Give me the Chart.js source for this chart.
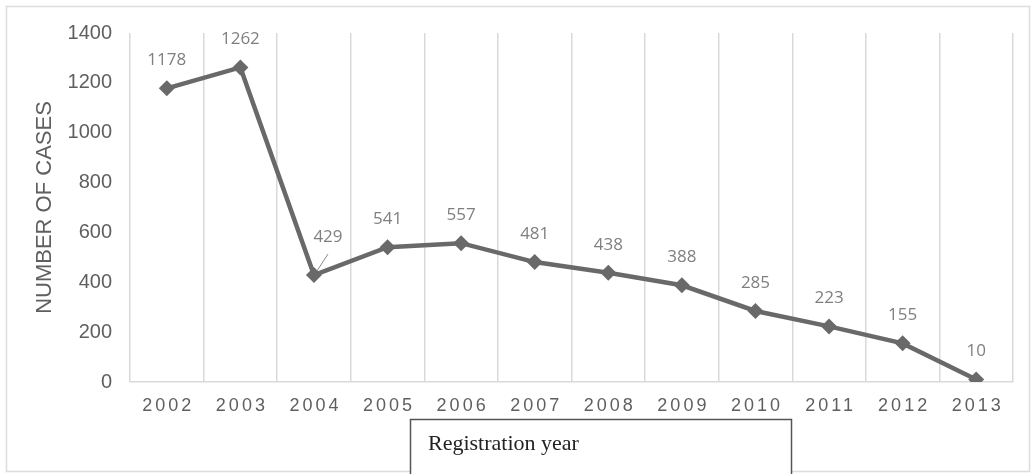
<!DOCTYPE html>
<html>
<head>
<meta charset="utf-8">
<script src="https://cdn.jsdelivr.net/npm/chart.js@4.4.1/dist/chart.umd.min.js"></script>
<style>
  html, body { margin: 0; padding: 0; background: #fff; }
  #wrap { width: 1035px; height: 474px; position: relative; }
</style>
</head>
<body>
<div id="wrap"><canvas id="chart" width="1035" height="474"></canvas></div>
<script>
// registration years and case counts
const years = ['2002', '2003', '2004', '2005', '2006', '2007', '2008', '2009', '2010', '2011', '2012', '2013']
const cases = [1178, 1262, 429, 541, 557, 481, 438, 388, 285, 223, 155, 10]
const yTicks = [0, 200, 400, 600, 800, 1000, 1200, 1400]

const lineColor = '#696969'
const sans = '"Liberation Sans", Arial, sans-serif'

// frame around the whole figure + the x-axis caption box
const framePlugin = {
  id: 'frame',
  beforeDraw(chart) {
    const ctx = chart.ctx
    ctx.save()
    ctx.fillStyle = '#fff'
    ctx.fillRect(0, 0, chart.width, chart.height)
    ctx.strokeStyle = '#dcdcdc'
    ctx.lineWidth = 1.5
    ctx.strokeRect(6.5, 6.5, chart.width - 12, chart.height - 9)
    ctx.restore()
  },
  afterDraw(chart) {
    const ctx = chart.ctx
    const x = chart.scales.x
    ctx.save()
    // category labels, slightly tracked
    ctx.fillStyle = '#5f5f5f'
    ctx.font = '18px ' + sans
    ctx.letterSpacing = '3px'
    ctx.textAlign = 'center'
    ctx.textBaseline = 'middle'
    years.forEach((y, i) => {
      ctx.fillText(y, x.getPixelForTick(i) + 1.5, x.top + 24)
    })
    ctx.letterSpacing = '0px'
    // caption box
    ctx.strokeStyle = '#555'
    ctx.lineWidth = 1.5
    ctx.fillStyle = '#fff'
    ctx.fillRect(410, 419, 381, 60)
    ctx.strokeRect(410.5, 419.5, 381, 60)
    ctx.fillStyle = '#222'
    ctx.font = '22px "Liberation Serif", "Times New Roman", serif'
    ctx.textAlign = 'left'
    ctx.fillText('Registration year', 428, 444)
    ctx.restore()
  },
}

// value labels above each marker
const valueLabels = {
  id: 'valueLabels',
  afterDatasetsDraw(chart) {
    const ctx = chart.ctx
    const meta = chart.getDatasetMeta(0)
    ctx.save()
    ctx.fillStyle = '#7f7f7f'
    ctx.font = '17px "Open Sans", sans-serif'
    ctx.textAlign = 'center'
    ctx.textBaseline = 'middle'
    meta.data.forEach((pt, i) => {
      const v = cases[i]
      if (i === 2) {
        // pulled up and right, with a leader line back to the marker
        ctx.strokeStyle = '#8a8a8a'
        ctx.lineWidth = 1
        ctx.beginPath()
        ctx.moveTo(pt.x + 3, pt.y - 4)
        ctx.lineTo(pt.x + 14, pt.y - 21)
        ctx.stroke()
        ctx.fillText(String(v), pt.x + 14, pt.y - 38)
      } else {
        ctx.fillText(String(v), pt.x, pt.y - 28)
      }
    })
    ctx.restore()
  },
}

new Chart(document.getElementById('chart'), {
  type: 'line',
  data: {
    labels: years,
    datasets: [{
      data: cases,
      borderColor: lineColor,
      backgroundColor: lineColor,
      borderWidth: 4.5,
      tension: 0,
      pointStyle: 'rectRot',
      pointRadius: 8,
      pointHoverRadius: 8,
      pointBorderWidth: 0,
      pointBackgroundColor: lineColor,
    }],
  },
  options: {
    responsive: false,
    animation: false,
    events: [],
    layout: { padding: { left: 0, right: 22, top: 33, bottom: 0 } },
    plugins: {
      legend: { display: false },
      tooltip: { enabled: false },
    },
    scales: {
      x: {
        type: 'category',
        offset: true,
        grid: { offset: true, color: '#d9d9d9', lineWidth: 1.5, drawTicks: false },
        border: { display: true, color: '#d9d9d9', width: 1.5 },
        ticks: { display: false },
        afterFit(scale) { scale.height = 92 },
      },
      y: {
        min: 0,
        max: 1400,
        afterBuildTicks(scale) { scale.ticks = yTicks.map(v => ({ value: v })) },
        grid: { display: false, drawTicks: false },
        border: { display: false },
        ticks: {
          padding: 18,
          color: '#5f5f5f',
          font: { family: sans, size: 20 },
          callback: v => String(v),
        },
        title: {
          display: true,
          text: 'NUMBER OF CASES',
          color: '#5f5f5f',
          font: { family: sans, size: 22 },
          padding: { top: 32, bottom: 0 },
        },
        afterFit(scale) { scale.width = 130 },
      },
    },
  },
  plugins: [framePlugin, valueLabels],
})
</script>
</body>
</html>
